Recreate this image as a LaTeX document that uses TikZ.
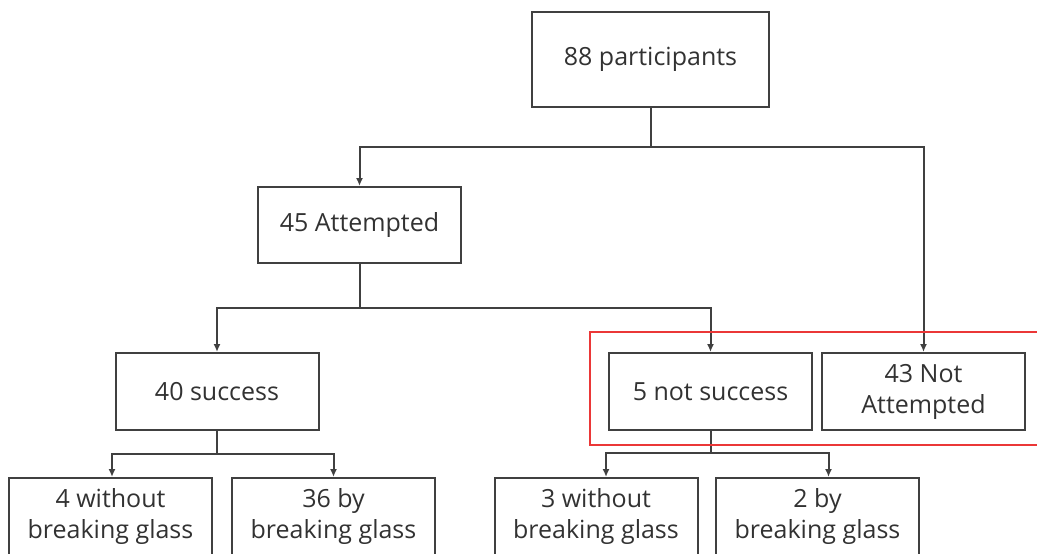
\documentclass[tikz,border=0pt]{standalone}
\usepackage{fontspec}
\setmainfont{Open Sans}
\usetikzlibrary{arrows.meta}
\definecolor{linegray}{RGB}{64,64,64}
\definecolor{textgray}{RGB}{50,50,50}
\definecolor{markred}{RGB}{235,55,55}
\begin{document}
\begin{tikzpicture}[x=1pt,y=-1pt,
    box/.style={draw=linegray, line width=2pt, minimum width=203pt, minimum height=77pt,
      inner sep=0pt, align=center, text=textgray, font=\fontsize{25}{31}\selectfont},
    link/.style={draw=linegray, line width=2pt},
    arr/.style={link, -{Latex[length=8pt,width=7pt]}}]
  \useasboundingbox (0,0) rectangle (1037,554);
  % boxes
  \node[box, minimum width=237pt, minimum height=95pt] (part) at (650.5,59.5) {88 participants};
  \node[box, minimum height=76pt] (att) at (359.5,225) {45 Attempted};
  \node[box] (succ) at (217,391.5) {40 success};
  \node[box] (nsucc) at (710.5,391.5) {5 not success};
  \node[box] (natt) at (923.5,391.5) {43 Not\\Attempted};
  \foreach \name/\x/\txt in {succA/110.5/4 without, succB/333.5/36 by,
                             nsuccA/596/3 without, nsuccB/817.5/2 by}
    {\node[box] (\name) at (\x,516.5) {\txt\\breaking glass};}
  % junction points
  \coordinate (jpart) at (650.5,147);
  \coordinate (jatt) at (359.5,308);
  \coordinate (jsucc) at (217,454);
  \coordinate (jnsucc) at (710.5,453);
  % connectors
  \draw[link] (part.south) -- (jpart);
  \draw[arr] (jpart) -| (att.north);
  \draw[arr] (jpart) -| (natt.north);
  \draw[link] (att.south) -- (jatt);
  \draw[arr] (jatt) -| (succ.north);
  \draw[arr] (jatt) -| (nsucc.north);
  \draw[link] (succ.south) -- (jsucc);
  \draw[arr] (jsucc) -| ([xshift=1.5pt]succA.north);
  \draw[arr] (jsucc) -| (succB.north);
  \draw[link] (nsucc.south) -- (jnsucc);
  \draw[arr] (jnsucc) -| ([xshift=10pt]nsuccA.north);
  \draw[arr] (jnsucc) -| ([xshift=11pt]nsuccB.north);
  % highlighted group
  \draw[markred, line width=1.5pt] (590,332) rectangle (1045,445);
\end{tikzpicture}
\end{document}
